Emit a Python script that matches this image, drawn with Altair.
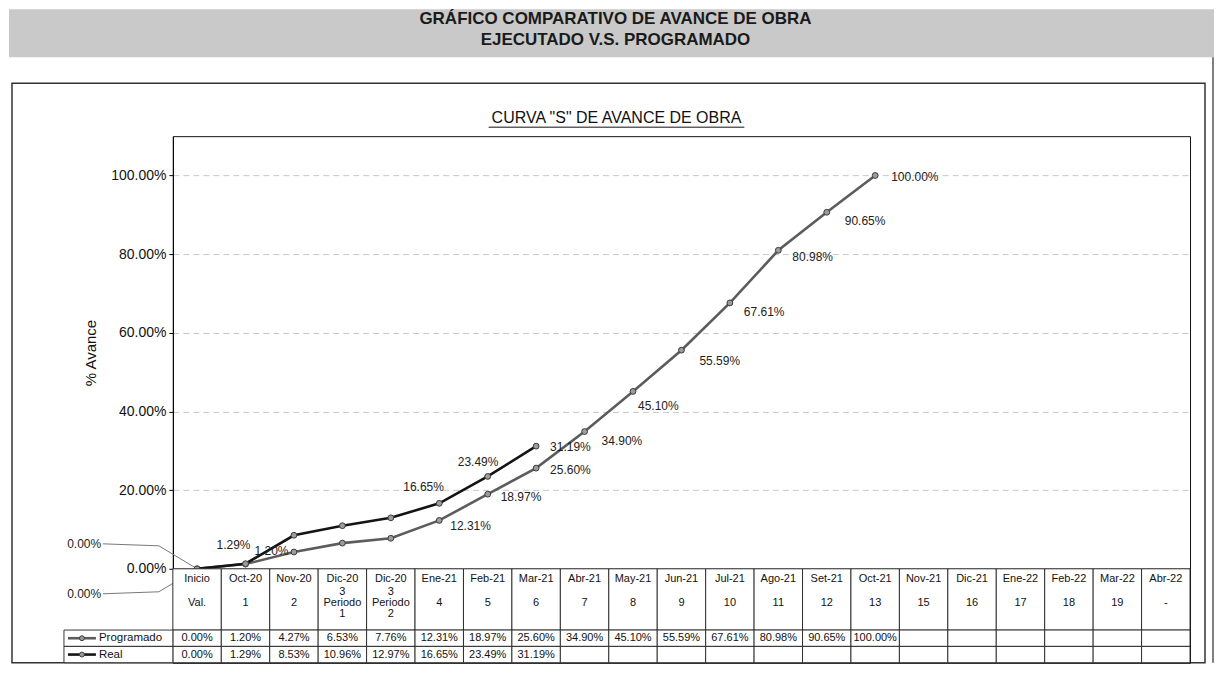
import altair as alt
import pandas as pd

# ---------------- data ----------------
months = ["Inicio", "Oct-20", "Nov-20", "Dic-20", "Dic-20", "Ene-21", "Feb-21",
          "Mar-21", "Abr-21", "May-21", "Jun-21", "Jul-21", "Ago-21", "Set-21",
          "Oct-21", "Nov-21", "Dic-21", "Ene-22", "Feb-22", "Mar-22", "Abr-22"]
periods = ["Val.", "1", "2", "3\nPeriodo\n1", "3\nPeriodo\n2", "4", "5", "6", "7",
           "8", "9", "10", "11", "12", "13", "15", "16", "17", "18", "19", "-"]
programado = [0.0, 0.0120, 0.0427, 0.0653, 0.0776, 0.1231, 0.1897, 0.2560,
              0.3490, 0.4510, 0.5559, 0.6761, 0.8098, 0.9065, 1.0]
real = [0.0, 0.0129, 0.0853, 0.1096, 0.1297, 0.1665, 0.2349, 0.3119]
series_names = ["Programado", "Real"]

# label placement (index -> dx, dy, align)
prog_label_pos = {0: (-96, 25, "right"), 1: (9, -13, "left"), 5: (11, 6, "left"),
                  6: (13, 3, "left"), 7: (14, 2, "left"), 8: (17, 9, "left"),
                  9: (5, 15, "left"), 10: (18, 11, "left"), 11: (14, 9, "left"),
                  12: (14, 7, "left"), 13: (18, 9, "left"), 14: (16, 2, "left")}
real_label_pos = {0: (-96, -25, "right"), 1: (-29, -19, "left"), 5: (-36, -16, "left"),
                  6: (-30, -14, "left"), 7: (14, 1, "left")}

FONT = "Liberation Sans"
W, H, TH = 1018, 433, 94
keys = list(range(len(months)))

rows = []
for i, v in enumerate(programado):
    rows.append({"k": i, "v": v, "serie": "Programado"})
for i, v in enumerate(real):
    rows.append({"k": i, "v": v, "serie": "Real"})
sdf = pd.DataFrame(rows)

color = alt.Color("serie:N", scale=alt.Scale(domain=series_names, range=["#5c5c5c", "#141414"]),
                  legend=None)
X = alt.X("k:O", scale=alt.Scale(type="point", domain=keys, padding=0.5), axis=None)
Y = alt.Y("v:Q", scale=alt.Scale(domain=[0, 1.1], nice=False, zero=True),
          axis=alt.Axis(values=[0, 0.2, 0.4, 0.6, 0.8, 1.0], format=".2%", title="% Avance",
                        grid=True, gridDash=[6, 4], gridColor="#c8c8c8", gridWidth=1,
                        labelFontSize=14, labelColor="#111", titleFontSize=15,
                        titleFontWeight="normal", titleColor="#111", domainColor="#000",
                        tickColor="#000", tickSize=4, labelPadding=3, titlePadding=12))

one = alt.Data(values=[{}])

lines = alt.Chart(sdf).mark_line(strokeWidth=2.6).encode(x=X, y=Y, color=color,
                                                         detail="serie:N")
points = alt.Chart(sdf).mark_circle(size=34, color="#9c9c9c", stroke="#3a3a3a",
                                    strokeWidth=1, opacity=1).encode(x=X, y=Y)

label_layers = []
for serie, pos in (("Programado", prog_label_pos), ("Real", real_label_pos)):
    for idx, (dx, dy, al) in pos.items():
        label_layers.append(
            alt.Chart(sdf).transform_filter(
                (alt.datum.serie == serie) & (alt.datum.k == idx)
            ).mark_text(dx=dx, dy=dy, align=al, baseline="middle", fontSize=12,
                        color="#222", font=FONT).encode(
                x=X, y=Y, text=alt.Text("v:Q", format=".2%"))
        )

# leader lines of the two 0.00 % labels
zero_pts = sdf[sdf.k == 0]
leader_diag_r = alt.Chart(zero_pts[zero_pts.serie == "Real"]).mark_rule(
    color="#777", strokeWidth=1).encode(x=X, y=Y, x2=alt.value(-14), y2=alt.value(410))
leader_diag_p = alt.Chart(zero_pts[zero_pts.serie == "Programado"]).mark_rule(
    color="#777", strokeWidth=1).encode(x=X, y=Y, x2=alt.value(-14), y2=alt.value(456))
leader_h_r = alt.Chart(one).mark_rule(color="#777", strokeWidth=1).encode(
    x=alt.value(-70), x2=alt.value(-14), y=alt.value(408), y2=alt.value(410))
leader_h_p = alt.Chart(one).mark_rule(color="#777", strokeWidth=1).encode(
    x=alt.value(-70), x2=alt.value(-14), y=alt.value(458), y2=alt.value(456))

# decorations (header band, frames, titles)
band = alt.Chart(one).mark_rect(color="#c9c9c9").encode(
    x=alt.value(-164), x2=alt.value(1042), y=alt.value(-127), y2=alt.value(-79))
title1 = alt.Chart(one).mark_text(fontSize=17, fontWeight="bold", font=FONT, color="#1a1a1a",
                                  align="center", baseline="middle").encode(
    x=alt.value(443), y=alt.value(-117), text=alt.value("GRÁFICO COMPARATIVO DE AVANCE DE OBRA"))
title2 = alt.Chart(one).mark_text(fontSize=17, fontWeight="bold", font=FONT, color="#1a1a1a",
                                  align="center", baseline="middle").encode(
    x=alt.value(443), y=alt.value(-96), text=alt.value("EJECUTADO V.S. PROGRAMADO"))
frame = alt.Chart(one).mark_rect(fill=None, stroke="#333", strokeWidth=1.5).encode(
    x=alt.value(-161), x2=alt.value(1033), y=alt.value(-53), y2=alt.value(527))
page_right = alt.Chart(one).mark_rule(color="#555", strokeWidth=1.5).encode(
    x=alt.value(1041), y=alt.value(-79), y2=alt.value(527))
subtitle = alt.Chart(one).mark_text(fontSize=16, font=FONT, color="#111", align="center",
                                    baseline="middle").encode(
    x=alt.value(444), y=alt.value(-18), text=alt.value('CURVA "S" DE AVANCE DE OBRA'))
underline = alt.Chart(one).mark_rule(color="#111", strokeWidth=1).encode(
    x=alt.value(316), x2=alt.value(572), y=alt.value(-9), y2=alt.value(-9))

top = alt.layer(band, title1, title2, page_right, frame, subtitle, underline,
                leader_h_r, leader_h_p, leader_diag_r, leader_diag_p,
                lines, points, *label_layers).properties(width=W, height=H)

# ---------------- data table ----------------
spans = [(0.0, 3.75), (3.75, 4.75), (4.75, 5.75)]
cells = pd.DataFrame([{"k": k, "y0": a, "y1": b} for k in keys for (a, b) in spans])
TX = alt.X("k:O", scale=alt.Scale(domain=keys, paddingInner=0, paddingOuter=0), axis=None)
tys = alt.Scale(domain=[0, 5.75], reverse=True, nice=False, zero=False)

cell_layer = alt.Chart(cells).mark_rect(fill="white", stroke="#222", strokeWidth=0.9).encode(
    x=TX, y=alt.Y("y0:Q", scale=tys, axis=None), y2="y1:Q")

month_df = pd.DataFrame({"k": keys, "t": months, "yc": 0.6})
period_df = pd.DataFrame({"k": keys, "t": periods, "yc": 2.1})
single_df = period_df[~period_df.t.str.contains("\n")]
multi_df = period_df[period_df.t.str.contains("\n")]
vals = [{"k": i, "t": f"{v * 100:.2f}%", "yc": 4.25} for i, v in enumerate(programado)]
vals += [{"k": i, "t": f"{v * 100:.2f}%", "yc": 5.25} for i, v in enumerate(real)]
val_df = pd.DataFrame(vals)

def ttext(df, **kw):
    return alt.Chart(df).mark_text(fontSize=11, font=FONT, color="#111", align="center",
                                   baseline="middle", **kw).encode(
        x=TX, y=alt.Y("yc:Q", scale=tys, axis=None), text="t:N")

month_t = ttext(month_df)
period_single = ttext(single_df)
period_multi = ttext(multi_df, lineBreak="\n", lineHeight=11, dy=-11)
val_t = ttext(val_df)

leg_df = pd.DataFrame({"serie": series_names, "y0": [3.75, 4.75], "y1": [4.75, 5.75],
                       "yc": [4.25, 5.25]})
leg_cells = alt.Chart(leg_df).mark_rect(fill="white", stroke="#222", strokeWidth=0.9).encode(
    x=alt.value(-109), x2=alt.value(0), y=alt.Y("y0:Q", scale=tys, axis=None), y2="y1:Q")
leg_rule = alt.Chart(leg_df).mark_rule(strokeWidth=2.6).encode(
    x=alt.value(-105), x2=alt.value(-77), y=alt.Y("yc:Q", scale=tys, axis=None), color=color)
leg_pt = alt.Chart(leg_df).mark_circle(size=24, color="#9c9c9c", stroke="#3a3a3a",
                                       strokeWidth=1, opacity=1).encode(
    x=alt.value(-91), y=alt.Y("yc:Q", scale=tys, axis=None))
leg_txt = alt.Chart(leg_df).mark_text(fontSize=11.5, font=FONT, color="#111", align="left",
                                      baseline="middle").encode(
    x=alt.value(-74), y=alt.Y("yc:Q", scale=tys, axis=None), text="serie:N")

table = alt.layer(cell_layer, month_t, period_single, period_multi, val_t, leg_cells,
                  leg_rule, leg_pt, leg_txt).properties(width=W, height=TH)

chart = alt.vconcat(top, table, spacing=0, bounds="flush").properties(
    padding=0, background="white"
).configure(font=FONT).configure_view(stroke="#111", strokeWidth=1)

chart.save("out.html", embed_options={"renderer": "svg", "actions": False})
